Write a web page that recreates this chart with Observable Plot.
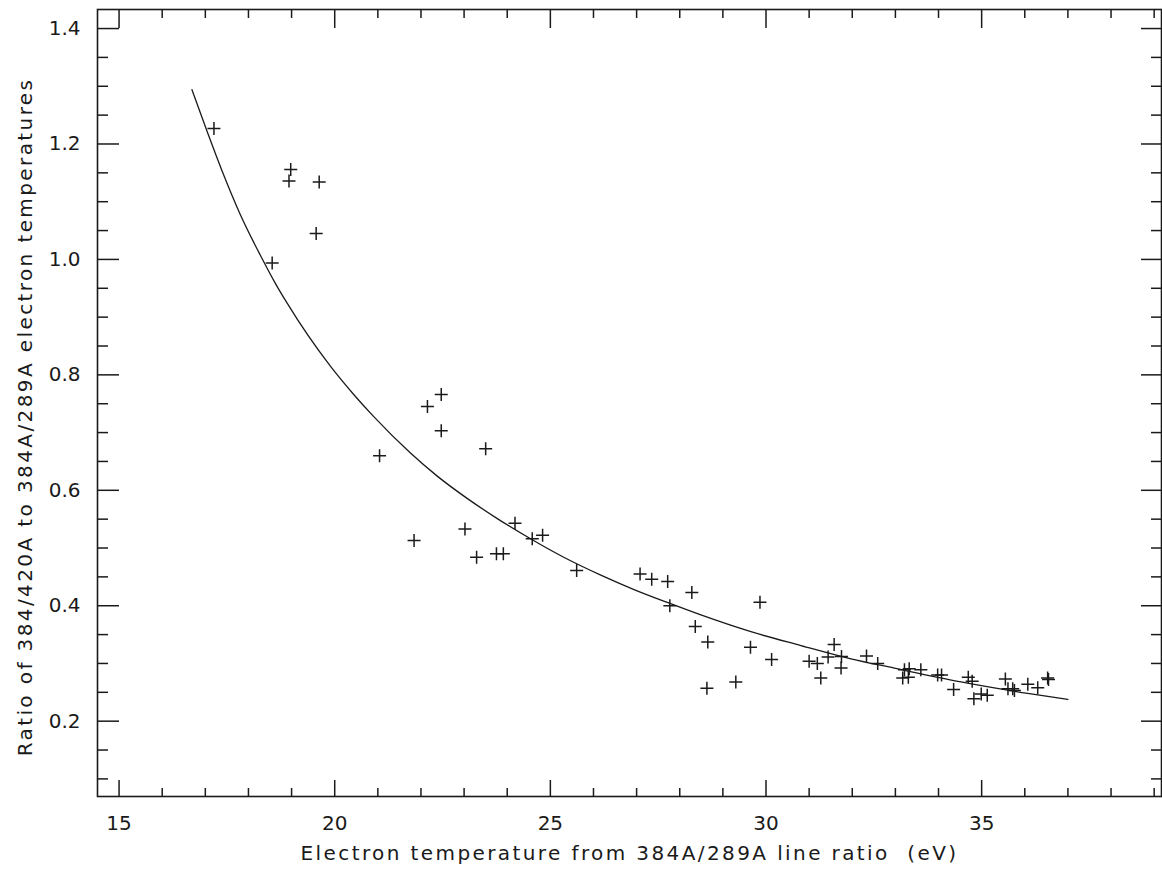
<!DOCTYPE html>
<html>
<head>
<meta charset="utf-8">
<script src="https://cdn.jsdelivr.net/npm/d3@7"></script>
<script src="https://cdn.jsdelivr.net/npm/@observablehq/plot@0.6"></script>
<style>
  html, body { margin: 0; padding: 0; background: #fff; }
  #chart svg { display: block; }
</style>
</head>
<body>
<div id="chart"></div>
<script>
// Measured points: electron temperature (eV) vs temperature ratio
const tempEV = [17.20, 18.98, 18.94, 19.64, 19.57, 18.55, 22.47, 22.15, 22.47, 21.04,
  23.50, 24.18, 23.02, 21.84, 24.58, 24.82, 23.29, 23.75, 23.91, 25.61,
  27.08, 27.35, 27.72, 28.28, 27.77, 29.86, 28.36, 28.65, 29.64, 30.13,
  28.63, 29.30, 31.00, 31.19, 31.27, 31.44, 31.58, 31.75, 31.74, 32.33,
  32.59, 33.21, 33.32, 33.17, 33.30, 33.59, 33.98, 34.07, 34.35, 34.69,
  34.78, 34.82, 34.99, 35.13, 35.55, 35.61, 35.72, 35.76, 36.07, 36.30,
  36.53, 36.55];
const tempRatio = [1.227, 1.156, 1.136, 1.134, 1.045, 0.994, 0.766, 0.745, 0.703, 0.660,
  0.672, 0.543, 0.533, 0.513, 0.516, 0.522, 0.484, 0.490, 0.490, 0.461,
  0.455, 0.446, 0.442, 0.423, 0.400, 0.406, 0.364, 0.337, 0.328, 0.307,
  0.257, 0.268, 0.304, 0.300, 0.275, 0.311, 0.333, 0.312, 0.292, 0.313,
  0.300, 0.289, 0.291, 0.275, 0.276, 0.289, 0.280, 0.280, 0.255, 0.276,
  0.269, 0.239, 0.247, 0.245, 0.273, 0.256, 0.256, 0.253, 0.264, 0.258,
  0.275, 0.272];

// Fitted curve
const fitTemp  = [16.69, 17.04, 17.38, 17.81, 18.27, 18.62, 18.89, 19.90, 20.44, 20.90,
  21.75, 22.37, 23.07, 23.77, 24.54, 25.31, 26.17, 26.94, 27.77, 28.49,
  29.65, 30.81, 31.97, 32.97, 34.52, 36.07, 37.00];
const fitRatio = [1.294, 1.222, 1.155, 1.078, 1.008, 0.959, 0.925, 0.815, 0.766, 0.728,
  0.665, 0.625, 0.586, 0.551, 0.516, 0.484, 0.453, 0.428, 0.404, 0.384,
  0.355, 0.331, 0.308, 0.292, 0.268, 0.248, 0.2376];

// Axis ticks
const xMajor = [15, 20, 25, 30, 35];
const xMinor = [16, 17, 18, 19, 21, 22, 23, 24, 26, 27, 28, 29, 31, 32, 33, 34, 36, 37, 38, 39];
const yMajor = [0.2, 0.4, 0.6, 0.8, 1.0, 1.2, 1.4];
const yMinor = [0.1, 0.15, 0.25, 0.3, 0.35, 0.45, 0.5, 0.55, 0.65, 0.7, 0.75, 0.85, 0.9, 0.95,
  1.05, 1.1, 1.15, 1.25, 1.3, 1.35];

const xTitle = "Electron temperature from 384A/289A line ratio  (eV)";
const yTitle = "Ratio of 384/420A to 384A/289A electron temperatures";

const points = tempEV.map((t, i) => ({t, r: tempRatio[i]}));
const fit = fitTemp.map((t, i) => ({t, r: fitRatio[i]}));

const W = 1162, H = 872;
const mL = 97, mR = 1, mT = 9, mB = 76;
const innerH = H - mT - mB;
const innerW = W - mL - mR;
const ink = "#1a1a1a";
const font = "DejaVu Sans, sans-serif";

// line-drawn plus sign (IDL psym=1 style)
const plusSymbol = {
  draw(context, size) {
    const h = Math.sqrt(size / Math.PI);
    context.moveTo(-h, 0); context.lineTo(h, 0);
    context.moveTo(0, -h); context.lineTo(0, h);
  }
};

const chart = Plot.plot({
  width: W,
  height: H,
  marginLeft: mL, marginRight: mR, marginTop: mT, marginBottom: mB,
  style: {background: "#fff", fontFamily: font, color: ink},
  x: {domain: [14.5, 39.17], axis: null},
  y: {domain: [0.0695, 1.433], axis: null},
  marks: [
    Plot.frame({stroke: ink, strokeWidth: 1.6}),
    // bottom ticks
    Plot.tickX(xMajor, {x: d => d, insetTop: innerH - 16, stroke: ink, strokeWidth: 1.5}),
    Plot.tickX(xMinor, {x: d => d, insetTop: innerH - 8, stroke: ink, strokeWidth: 1.5}),
    // top ticks
    Plot.tickX(xMajor, {x: d => d, insetBottom: innerH - 19, stroke: ink, strokeWidth: 1.5}),
    Plot.tickX(xMinor, {x: d => d, insetBottom: innerH - 9, stroke: ink, strokeWidth: 1.5}),
    // left ticks
    Plot.tickY(yMajor, {y: d => d, insetRight: innerW - 22, stroke: ink, strokeWidth: 1.5}),
    Plot.tickY(yMinor, {y: d => d, insetRight: innerW - 11, stroke: ink, strokeWidth: 1.5}),
    // right ticks
    Plot.tickY(yMajor, {y: d => d, insetLeft: innerW - 20, stroke: ink, strokeWidth: 1.5}),
    Plot.tickY(yMinor, {y: d => d, insetLeft: innerW - 10, stroke: ink, strokeWidth: 1.5}),
    // tick labels
    Plot.axisX(xMajor, {anchor: "bottom", tickSize: 0, tickPadding: 19, fontSize: 20,
      label: null, fill: ink, tickFormat: d => String(d)}),
    Plot.axisY(yMajor, {anchor: "left", tickSize: 0, tickPadding: 17, fontSize: 20,
      label: null, fill: ink, tickFormat: d => d.toFixed(1)}),
    // axis titles
    Plot.text([xTitle], {frameAnchor: "bottom", textAnchor: "middle", dy: 49, lineAnchor: "top",
      fontSize: 20, fill: ink, text: d => d}),
    Plot.text([yTitle], {frameAnchor: "left", textAnchor: "middle", dx: -72, dy: 14, rotate: -90,
      lineAnchor: "middle", fontSize: 20, fill: ink, text: d => d}),
    // fitted curve
    Plot.line(fit, {x: "t", y: "r", curve: "monotone-x", stroke: ink, strokeWidth: 1.3}),
    // data points
    Plot.dot(points, {x: "t", y: "r", symbol: plusSymbol, r: 6.5, stroke: ink, strokeWidth: 1.5, fill: "none"})
  ]
});

// IDL-like wide character spacing for the axis titles
d3.select(chart).selectAll("text").filter(function() {
  const t = this.textContent;
  return t === xTitle || t === yTitle;
}).style("letter-spacing", "2.4px");

document.getElementById("chart").appendChild(chart);
</script>
</body>
</html>
